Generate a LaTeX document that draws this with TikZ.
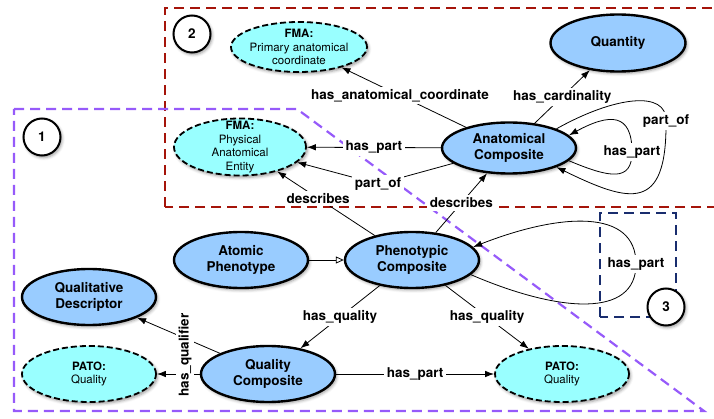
\documentclass[tikz,border=0pt]{standalone}
\usepackage{fontspec}
\setmainfont{TeX Gyre Heros}
\usetikzlibrary{shapes.geometric,arrows.meta,shadows.blur}

\definecolor{compblue}{RGB}{153,204,255}
\definecolor{extcyan}{RGB}{153,255,255}
\definecolor{boxred}{RGB}{165,20,10}
\definecolor{boxviolet}{RGB}{150,90,250}
\definecolor{boxnavy}{RGB}{25,45,110}

\begin{document}
\begin{tikzpicture}[x=1pt,y=1pt,
  every node/.style={font=\fontsize{13.5}{16.5}\selectfont\bfseries, align=center},
  dropsh/.style={blur shadow={shadow xshift=1.5pt,shadow yshift=-2pt,shadow blur radius=3pt,shadow opacity=40}},
  cls/.style={ellipse, draw, line width=2.4pt, fill=compblue, minimum width=134pt, minimum height=56pt, inner sep=0pt, dropsh},
  ext/.style={ellipse, draw, line width=1.8pt, dash pattern=on 6pt off 3pt, fill=extcyan, minimum width=134pt, minimum height=56pt,
    inner xsep=-6pt, inner ysep=-12pt, dropsh, font=\fontsize{11.5}{13.5}\selectfont},
  num/.style={circle, draw, line width=2pt, fill=white, minimum size=37pt, inner sep=0pt, dropsh},
  lbl/.style={fill=white, inner sep=2.5pt},
  rel/.style={-{Latex[length=9pt,width=6.5pt]}, line width=0.8pt},
  areabox/.style={line width=2.2pt, dash pattern=on 10pt off 6pt}]
\useasboundingbox (0,0) rectangle (714,418);
\clip (0,0) rectangle (714,418);

% the three regions
\draw[areabox, boxred] (165,211) rectangle (722,410);
\draw[areabox, boxviolet] (14,309) -- (297,309) -- (704,7) -- (14,7) -- cycle;
\draw[areabox, boxnavy] (600,101) rectangle (676,205);

\node[num] (n1) at (42,281) {1};
\node[num] (n2) at (192,384) {2};
\node[num] (n3) at (666,111) {3};

\node[ext, minimum height=50pt, minimum width=136pt] (coord) at (299,371) {\textbf{FMA:}\\Primary anatomical\\coordinate};
\node[ext, minimum height=57pt, minimum width=132pt] (phys) at (240,271) {\textbf{FMA:}\\Physical\\Anatomical\\Entity};
\node[cls, minimum height=57pt, minimum width=135pt] (quant) at (618,375) {Quantity};
\node[cls, minimum height=51pt] (ac) at (509,270) {Anatomical\\Composite};
\node[cls] (ap) at (241,158) {Atomic\\Phenotype};
\node[cls] (pc) at (412,158) {Phenotypic\\Composite};
\node[cls] (qd) at (89,121) {Qualitative\\Descriptor};
\node[ext] (patol) at (89,44) {\textbf{PATO:}\\Quality};
\node[cls] (qc) at (268,44) {Quality\\Composite};
\node[ext] (pator) at (562,44) {\textbf{PATO:}\\Quality};

\draw[rel] (ac) -- node[lbl, pos=0.53] (lcoord) {has\_anatomical\_coordinate} (coord);
\draw[rel] (ac) -- node[lbl] (lcard) {has\_cardinality} (quant);
\draw[rel] (ac) -- node[lbl] (lhp1) {has\_part} (phys);
\coordinate (po) at (378,234);
\draw[rel] (ac) -- (po) node[lbl] (lpo1) {part\_of} -- (phys);
\draw[rel] (ac.-12) .. controls (610,240) and (632,236) .. (632,266) node[lbl] (lhp2) {has\_part}
  .. controls (632,305) and (610,305) .. (ac.12);
\draw[rel] (ac.22) .. controls (615,322) and (667,328) .. (666,297) node[lbl] (lpo2) {part\_of}
  .. controls (667,205) and (630,215) .. (ac.-22);

\draw[rel] (pc) -- node[lbl, pos=0.58] (ldes1) {describes} (phys);
\draw[rel] (pc) -- node[lbl] (ldes2) {describes} (ac);
\draw[-{Triangle[open,length=8pt,width=7pt]}, line width=0.8pt] (ap) -- (pc);
\draw[rel] (pc.-14) .. controls (560,105) and (636,100) .. (636,154) node[lbl] (lhp3) {has\_part}
  .. controls (636,210) and (560,205) .. (pc.12);
\draw[rel] (pc) -- node[lbl] (lhq1) {has\_quality} (qc);
\draw[rel] (pc) -- node[lbl] (lhq2) {has\_quality} (pator);

\draw[rel] (qc) -- (qd);
\draw[rel] (qc) -- (patol);
\node[lbl, rotate=90] (lqual) at (185,63) {has\_qualifier};
\draw[rel] (qc) -- node[lbl] (lhp4) {has\_part} (pator);
\end{tikzpicture}
\end{document}
